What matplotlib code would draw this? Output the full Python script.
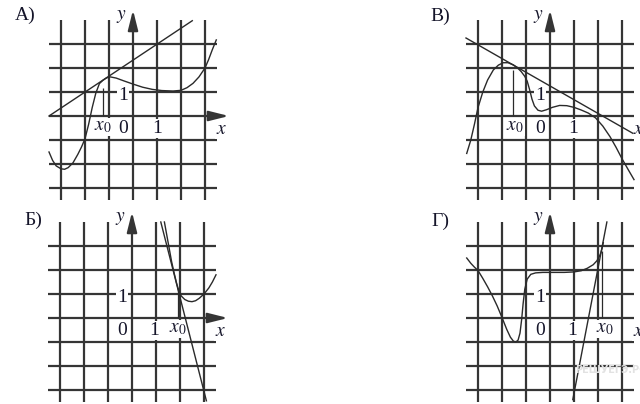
import matplotlib.pyplot as plt

# === Values (grid units) ===
grid_vals = [-3, -2, -1, 0, 1, 2, 3]

# panel А
a_x = [-3.5, -3.35, -3.2, -3.0, -2.85, -2.7, -2.5, -2.3, -2.15, -2.0, -1.85, -1.7,
       -1.55, -1.4, -1.25, -1.1, -0.95, -0.7, -0.4, 0.0, 0.4, 0.8, 1.2, 1.67, 2.0,
       2.25, 2.5, 2.75, 3.0, 3.15, 3.3, 3.47]
a_y = [-1.5, -1.85, -2.08, -2.2, -2.22, -2.15, -1.95, -1.6, -1.3, -0.95, -0.35, 0.35,
       0.95, 1.35, 1.49, 1.59, 1.63, 1.58, 1.47, 1.33, 1.2, 1.11, 1.06, 1.04, 1.07,
       1.18, 1.36, 1.63, 2.0, 2.35, 2.75, 3.17]
a_tan_x = [-3.5, 2.47]
a_tan_y = [0.0, 3.97]
a_x0, a_x0_top = -1.26, 1.15

# panel В
b_x = [-3.47, -3.3, -3.15, -3.0, -2.8, -2.6, -2.36, -2.15, -1.95, -1.75, -1.53, -1.35,
       -1.2, -1.05, -0.95, -0.85, -0.75, -0.65, -0.5, -0.35, -0.15, 0.1, 0.4, 0.7,
       1.0, 1.3, 1.6, 1.9, 2.2, 2.5, 2.75, 3.0, 3.25, 3.5]
b_y = [-1.56, -1.0, -0.35, 0.35, 1.0, 1.5, 1.92, 2.12, 2.22, 2.22, 2.13, 2.0,
       1.85, 1.65, 1.45, 1.1, 0.7, 0.42, 0.24, 0.2, 0.26, 0.36, 0.44, 0.43,
       0.36, 0.25, 0.12, -0.08, -0.42, -0.86, -1.3, -1.78, -2.22, -2.65]
b_tan_x = [-3.5, 3.45]
b_tan_y = [3.25, -0.72]
b_x0, b_x0_top = -1.53, 1.92

# panel Б
c_x = [1.35, 1.45, 1.55, 1.65, 1.75, 1.85, 1.95, 2.05, 2.2, 2.35, 2.5, 2.65, 2.8,
       3.0, 3.2, 3.35, 3.5]
c_y = [4.0, 3.45, 2.9, 2.35, 1.9, 1.48, 1.12, 0.92, 0.77, 0.7, 0.68, 0.72, 0.82,
       1.0, 1.25, 1.5, 1.8]
c_tan_x = [1.2, 3.1]
c_tan_y = [4.0, -3.45]
c_x0, c_x0_top = 1.9, 1.24

# panel Г
d_x = [-3.47, -3.3, -3.15, -3.0, -2.8, -2.6, -2.4, -2.2, -2.0, -1.8, -1.65, -1.52,
       -1.42, -1.33, -1.25, -1.18, -1.12, -1.05, -0.95, -0.8, -0.6, -0.3, 0.2, 0.6,
       1.0, 1.3, 1.55, 1.8, 1.95, 2.05, 2.12, 2.17, 2.22]
d_y = [2.5, 2.28, 2.12, 1.98, 1.65, 1.3, 0.92, 0.5, 0.02, -0.48, -0.8, -0.97,
       -1.0, -0.92, -0.63, -0.05, 0.6, 1.2, 1.62, 1.82, 1.88, 1.9, 1.9, 1.9,
       1.92, 1.97, 2.07, 2.22, 2.38, 2.55, 2.72, 2.9, 3.14]
d_tan_x = [0.95, 2.37]
d_tan_y = [-3.4, 4.0]
d_x0, d_x0_top = 2.17, 2.8

plt.rcParams['font.family'] = ['Liberation Serif', 'DejaVu Serif']
plt.rcParams['mathtext.fontset'] = 'stix'

W, H, U = 640, 404, 24.0
GRID = '#353535'
INK = '#2a2a2a'
TXT = '#15152a'

fig = plt.figure(figsize=(6.4, 4.04), dpi=100)


def make_panel(px0, py0, px1, py1, ox, oy):
    # axes over a pixel box; (ox, oy) is the pixel of the origin, 1 cell = U px
    ax = fig.add_axes([px0 / W, 1 - py1 / H, (px1 - px0) / W, (py1 - py0) / H])
    ax.set_xlim((px0 - ox) / U, (px1 - ox) / U)
    ax.set_ylim((oy - py1) / U, (oy - py0) / U)
    ax.axis('off')
    ax.vlines(grid_vals, -3.5, 4.0, color=GRID, lw=1.6, zorder=1)
    ax.hlines(grid_vals, -3.5, 3.5, color=GRID, lw=1.6, zorder=1)
    arr = dict(arrowstyle='-|>,head_length=0.6,head_width=0.15', color=GRID,
               lw=1.6, mutation_scale=20, shrinkA=0, shrinkB=0)
    ax.annotate('', xy=(4.0, 0), xytext=(3.4, 0), arrowprops=arr)
    ax.annotate('', xy=(0, 4.42), xytext=(0, 3.9), arrowprops=arr)
    return ax


def labels(ax, x0, one_x):
    kw = dict(ha='center', va='center', fontsize=14, color=TXT, zorder=2,
              bbox=dict(fc='white', ec='none', pad=0.5))
    ax.text(-0.42, 0.86, '1', **kw)
    ax.text(-0.42, -0.52, '0', **kw)
    ax.text(one_x, -0.52, '1', **kw)
    ax.text(x0, -0.45, '$x_0$', **kw)
    ax.text(3.7, -0.57, '$x$', **kw)
    ax.text(-0.47, 4.15, '$y$', **kw)


def draw(ax, cx, cy, tx, ty, x0, x0_top, x0_lab, one_x):
    ax.plot(cx, cy, color=INK, lw=1.0, zorder=3)
    ax.plot(tx, ty, color=INK, lw=1.0, zorder=3)
    ax.vlines(x0, 0.0, x0_top, color=INK, lw=0.9, zorder=3)
    labels(ax, x0_lab, one_x)


ax_a = make_panel(0, 0, 320, 202, 133, 116)
draw(ax_a, a_x, a_y, a_tan_x, a_tan_y, a_x0, a_x0_top, -1.25, 1.0)

ax_b = make_panel(320, 0, 640, 202, 550, 116)
draw(ax_b, b_x, b_y, b_tan_x, b_tan_y, b_x0, b_x0_top, -1.46, 0.97)

ax_c = make_panel(0, 202, 320, 404, 132, 318)
draw(ax_c, c_x, c_y, c_tan_x, c_tan_y, c_x0, c_x0_top, 1.93, 0.92)

ax_d = make_panel(320, 202, 640, 404, 550, 318)
draw(ax_d, d_x, d_y, d_tan_x, d_tan_y, d_x0, d_x0_top, 2.29, 0.94)
ax_d.text(1.04, -2.17, 'РЕШУЕГЭ.РФ', ha='left', va='center', fontsize=7,
          family='DejaVu Sans', weight='bold', color='#e2e2e2', zorder=4)

# panel letters
for s, px, py in [('А)', 25, 15), ('В)', 440, 16), ('Б)', 33, 220), ('Г)', 440, 221)]:
    fig.text(px / W, 1 - py / H, s, ha='center', va='center', fontsize=14,
             color=TXT)

fig.savefig('out.png', dpi=100)
